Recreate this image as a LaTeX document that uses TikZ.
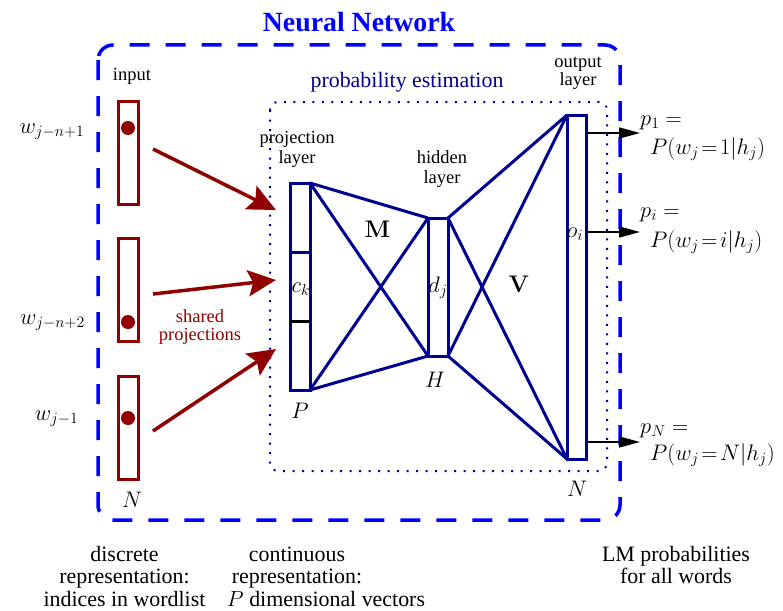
\RequirePackage{fix-cm}
\documentclass[tikz,border=0pt]{standalone}
\usepackage[no-math]{fontspec}
\setmainfont{Liberation Serif}
\usetikzlibrary{arrows.meta}
\definecolor{nblue}{RGB}{0,0,144}
\definecolor{dred}{RGB}{144,0,0}
\definecolor{brblue}{RGB}{0,0,255}
\begin{document}
\begin{tikzpicture}[x=1pt,y=-1pt,
  big/.style={font=\fontsize{21.9}{22.5}\selectfont, inner sep=0pt, align=center},
  lbl/.style={font=\fontsize{18.5}{19.5}\selectfont, inner sep=0pt, align=center},
  mth/.style={font=\fontsize{22.5}{22.5}\selectfont, inner sep=0pt},
  inbox/.style={draw=dred, line width=3pt, minimum width=20pt, minimum height=103pt, inner sep=0pt, outer sep=0pt},
  netbox/.style={draw=nblue, line width=3pt, inner sep=0pt, outer sep=0pt},
  net/.style={draw=nblue, line width=3pt},
  projarrow/.style={draw=dred, line width=3.5pt, -{Stealth[length=28pt,width=26pt,inset=5pt]}},
  outarrow/.style={draw=black, line width=1.5pt, -{Triangle[length=21pt,width=11pt]}},
  ]
\useasboundingbox (0,0) rectangle (783,610);

% outer dashed box and title
\draw[brblue, line width=3.5pt, dash pattern=on 20pt off 16pt, rounded corners=15pt] (98,45) rectangle (620,520);
\node[font=\fontsize{27.8}{30}\selectfont\bfseries, text=brblue, inner sep=0pt, anchor=base] (title) at (359,32) {Neural Network};

% inner dotted box
\draw[nblue, line width=2pt, dash pattern=on 2pt off 7.5pt, rounded corners=8pt] (270,102) rectangle (607,471);
\node[big, text=nblue, anchor=base] (pe) at (407,87) {probability estimation};

% input side
\node[lbl, anchor=base] (inputlbl) at (132,80) {input};
\node[inbox] (in1) at (128,152.5) {};
\node[inbox] (in2) at (128,290) {};
\node[inbox] (in3) at (128,428) {};
\fill[dred] (128,128) circle (7pt);
\fill[dred] (128,322) circle (7pt);
\fill[dred] (128,418) circle (7pt);
\node[mth, anchor=base] (w1) at (52,133) {$w_{j-n+1}$};
\node[mth, anchor=base] (w2) at (52.5,324) {$w_{j-n+2}$};
\node[mth, anchor=base] (w3) at (56.5,420) {$w_{j-1}$};
\node[mth, anchor=base] (nin) at (132,507) {$N$};

% shared projections
\coordinate (a1s) at (153,149);
\coordinate (a1e) at (276,210);
\coordinate (a2s) at (153,294);
\coordinate (a2e) at (276,280);
\coordinate (a3s) at (153,431);
\coordinate (a3e) at (276,349);
\draw[projarrow] (a1s) -- (a1e);
\draw[projarrow] (a2s) -- (a2e);
\draw[projarrow] (a3s) -- (a3e);
\node[lbl, text=dred, anchor=base, font=\fontsize{18.5}{18}\selectfont] (shared) at (200,340) {shared\\projections};

% projection layer
\node[lbl, anchor=base] (projlbl) at (297,163) {projection\\layer};
\node[netbox, minimum width=20pt, minimum height=207pt] (proj) at (300,286.5) {};
\draw[net] (290,252) -- (310,252);
\draw[black, line width=3pt] (290,321) -- (310,321);
\node[mth, anchor=base] (ck) at (301,292) {$c_k$};
\node[mth, anchor=base] (plbl) at (300,418) {$P$};

% hidden layer
\node[lbl, anchor=base] (hidlbl) at (442,183) {hidden\\layer};
\node[netbox, minimum width=20pt, minimum height=138pt] (hid) at (438,287) {};
\node[mth, anchor=base] (dj) at (438,292) {$d_j$};
\node[mth, anchor=base] (hlbl) at (435,387) {$H$};

% output layer
\node[lbl, anchor=base, font=\fontsize{18.5}{18}\selectfont] (outlbl) at (578,85) {output\\layer};
\node[netbox, minimum width=19pt, minimum height=344pt] (out) at (576.5,287) {};
\node[mth, anchor=base] (oi) at (575,237) {$o_i$};
\node[mth, anchor=base] (nout) at (577,496) {$N$};

% weights
\draw[net] (proj.north east) -- (hid.north west);
\draw[net] (proj.north east) -- (hid.south west);
\draw[net] (proj.south east) -- (hid.north west);
\draw[net] (proj.south east) -- (hid.south west);
\draw[net] (hid.north east) -- (out.north west);
\draw[net] (hid.north east) -- (out.south west);
\draw[net] (hid.south east) -- (out.north west);
\draw[net] (hid.south east) -- (out.south west);
\node[font=\fontsize{24}{24}\selectfont, inner sep=0pt, anchor=base] (mlbl) at (377.5,237) {$\mathbf{M}$};
\node[font=\fontsize{24}{24}\selectfont, inner sep=0pt, anchor=base] (vlbl) at (519,292) {$\mathbf{V}$};

% outputs
\coordinate (o1) at (640,133);
\coordinate (o2) at (640,232);
\coordinate (o3) at (640,442);
\draw[outarrow] (out.east |- o1) -- (o1);
\draw[outarrow] (out.east |- o2) -- (o2);
\draw[outarrow] (out.east |- o3) -- (o3);
\node[mth, anchor=base west] (p1) at (640,125) {$p_1 =$};
\node[mth, anchor=base west] (p1b) at (650,154) {$P(w_j\!=\!1|h_j)$};
\node[mth, anchor=base west] (pi) at (640,217) {$p_i =$};
\node[mth, anchor=base west] (pib) at (650,247) {$P(w_j\!=\!i|h_j)$};
\node[mth, anchor=base west] (pn) at (640,433) {$p_N =$};
\node[mth, anchor=base west] (pnb) at (650,460) {$P(w_j\!=\!N|h_j)$};

% bottom captions
\node[big, anchor=base] (disc) at (124.5,606) {discrete\\representation:\\indices in wordlist};
\node[big, anchor=base] (cont) at (297,583.5) {continuous\\representation:};
\node[big, anchor=base] (cont3) at (326,606) {$P$ dimensional vectors};
\node[big, anchor=base] (lm) at (676,583.5) {LM probabilities\\for all words};
\end{tikzpicture}
\end{document}
